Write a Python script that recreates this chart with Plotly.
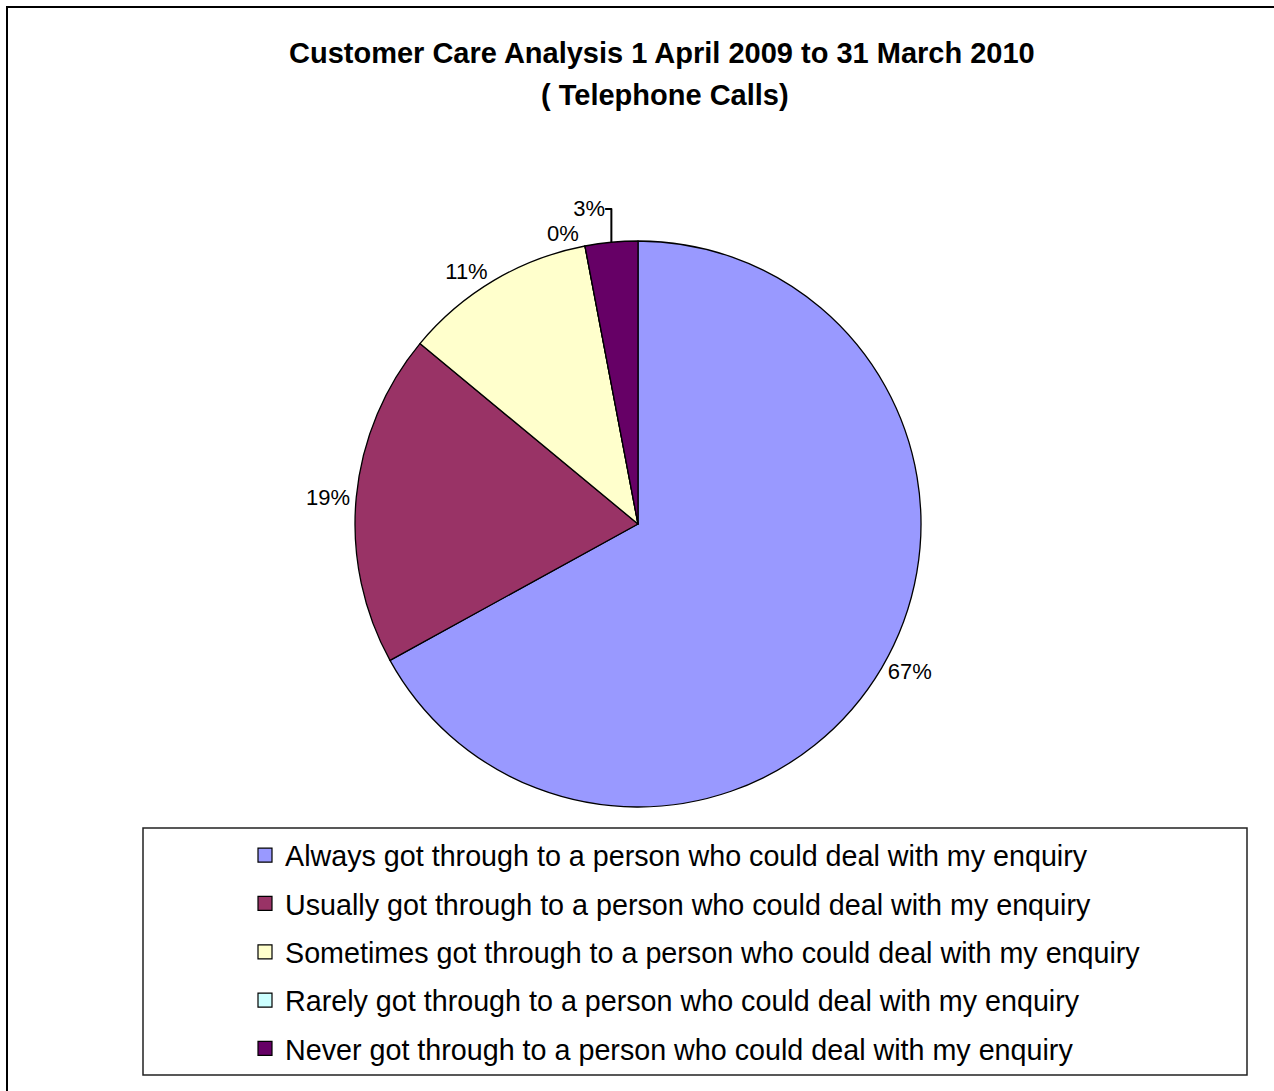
import plotly.graph_objects as go

categories = [
    "Always got through to a person who could deal with my enquiry",
    "Usually got through to a person who could deal with my enquiry",
    "Sometimes got through to a person who could deal with my enquiry",
    "Rarely got through to a person who could deal with my enquiry",
    "Never got through to a person who could deal with my enquiry",
]
values = [67, 19, 11, 0, 3]
colors = ["#9999FF", "#993366", "#FFFFCC", "#CCFFFF", "#660066"]

W, H = 1274, 1091
def px(x): return x / W
def py(y): return 1 - y / H

FONT = "Liberation Sans, Arial, sans-serif"

fig = go.Figure()
fig.add_trace(go.Pie(
    labels=categories, values=values, sort=False, direction="clockwise", rotation=0,
    marker=dict(colors=colors, line=dict(color="black", width=1.3)),
    texttemplate="%{percent:.0%}", textposition="outside",
    textfont=dict(family=FONT, size=22, color="black"),
    showlegend=False, hoverinfo="label+percent",
    domain=dict(x=[px(355), px(921)], y=[py(807), py(241)]),
))

for cat, col in zip(categories, colors):
    fig.add_trace(go.Scatter(
        x=[None], y=[None], mode="markers", name=cat, legendgroup=cat,
        marker=dict(symbol="square", size=14, color=col, line=dict(color="black", width=1.2)),
        showlegend=True,
    ))

fig.update_layout(
    width=W, height=H, margin=dict(l=0, r=0, t=0, b=0),
    paper_bgcolor="white", plot_bgcolor="white",
    xaxis=dict(visible=False), yaxis=dict(visible=False),
    showlegend=True,
    legend=dict(
        x=px(245), y=py(830), xanchor="left", yanchor="top",
        font=dict(family=FONT, size=28.7, color="black"),
        tracegroupgap=8.0, traceorder="grouped",
        bgcolor="rgba(0,0,0,0)", borderwidth=0,
    ),
    annotations=[
        dict(text="<b>Customer Care Analysis 1 April 2009 to 31 March 2010</b>",
             x=px(662), y=py(53), xref="paper", yref="paper", showarrow=False,
             xanchor="center", yanchor="middle", font=dict(family=FONT, size=29, color="black")),
        dict(text="<b>( Telephone Calls)</b>",
             x=px(665), y=py(95), xref="paper", yref="paper", showarrow=False,
             xanchor="center", yanchor="middle", font=dict(family=FONT, size=29, color="black")),
    ],
    shapes=[
        dict(type="rect", xref="paper", yref="paper", x0=px(7), x1=1.02, y0=-0.02, y1=py(7),
             line=dict(color="black", width=2)),
        dict(type="rect", xref="paper", yref="paper", x0=px(143), x1=px(1247), y0=py(1075), y1=py(828),
             line=dict(color="#222222", width=1.5)),
    ],
)

fig.write_html("out.html")
